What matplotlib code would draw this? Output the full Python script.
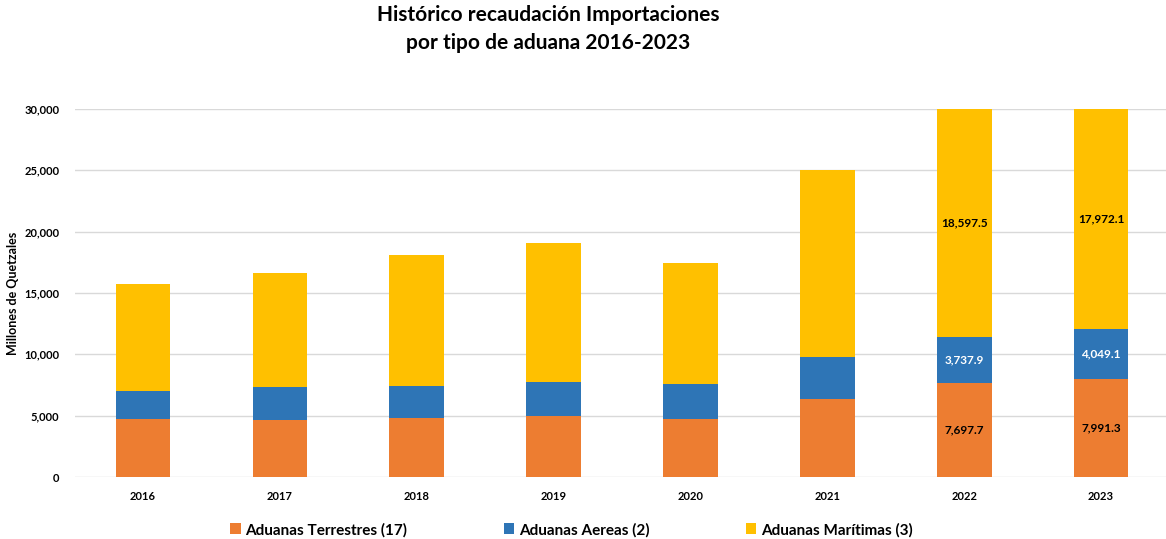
import matplotlib
matplotlib.use("Agg")
import matplotlib.pyplot as plt
import numpy as np

plt.rcParams["font.family"] = ["Lato", "DejaVu Sans"]

years = ["2016", "2017", "2018", "2019", "2020", "2021", "2022", "2023"]
terrestres = [4750, 4670, 4810, 5000, 4750, 6370, 7697.7, 7991.3]
aereas = [2300, 2630, 2600, 2740, 2870, 3420, 3737.9, 4049.1]
maritimas = [8660, 9300, 10680, 11320, 9810, 15210, 18597.5, 17972.1]
labels = ["Aduanas Terrestres (17)", "Aduanas Aereas (2)", "Aduanas Marítimas (3)"]
colors = ["#ED7D31", "#2E75B6", "#FFC000"]
show_labels = [False, False, False, False, False, False, True, True]

fig = plt.figure(figsize=(11.66, 5.39), dpi=100)
ax = fig.add_axes([0.064, 0.115, 0.939, 0.683])

x = np.arange(len(years))
w = 0.4
bottom = np.zeros(len(years))
series = [terrestres, aereas, maritimas]
txt_colors = ["black", "white", "black"]
for vals, lab, c, tc in zip(series, labels, colors, txt_colors):
    vals = np.array(vals)
    ax.bar(x, vals, w, bottom=bottom, color=c, label=lab, zorder=2)
    for i in range(len(years)):
        if show_labels[i]:
            top = min(bottom[i] + vals[i], 30000)
            ax.text(x[i], (bottom[i] + top) / 2, f"{vals[i]:,.1f}", ha="center", va="center",
                    fontsize=8.5, fontweight="bold", color=tc)
    bottom += vals

ax.set_ylim(0, 30000)
ax.set_xlim(-0.5, 7.5)
ax.set_yticks(np.arange(0, 30001, 5000))
ax.set_yticklabels([f"{v:,}" for v in range(0, 30001, 5000)], fontsize=8, fontweight="bold")
ax.set_xticks(x)
ax.set_xticklabels(years, fontsize=8, fontweight="bold")
ax.tick_params(length=0, pad=10)
ax.tick_params(axis="y", pad=11)
ax.grid(axis="y", color="#D9D9D9", linewidth=1, zorder=0)
for s in ax.spines.values():
    s.set_visible(False)
ax.set_ylabel("Millones de Quetzales", fontsize=9, fontweight="bold", labelpad=4)

fig.suptitle("Histórico recaudación Importaciones\npor tipo de aduana 2016-2023",
             x=0.47, y=0.99, fontsize=15, fontweight="bold", linespacing=1.45)

leg = fig.legend(loc="lower center", bbox_to_anchor=(0.49, -0.022), ncol=3, frameon=False,
                 prop={"size": 11, "weight": "bold"}, handlelength=0.7, handleheight=0.7,
                 handletextpad=0.3, columnspacing=6.3)

fig.savefig("out.png", dpi=100)
